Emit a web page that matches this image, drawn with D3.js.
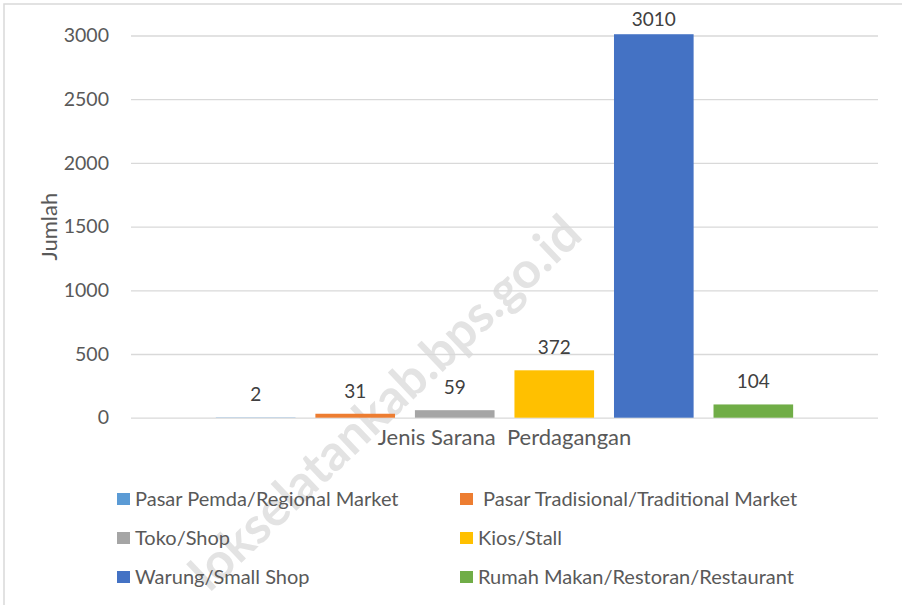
<!DOCTYPE html>
<html>
<head>
<meta charset="utf-8">
<script src="https://cdn.jsdelivr.net/npm/d3@7"></script>
<style>
  html, body { margin: 0; padding: 0; background: #fff; }
  svg { display: block; }
  text { font-family: Lato, "Open Sans", sans-serif; }
</style>
</head>
<body>
<div id="chart"></div>
<script>
// data
const categories = ["Jenis Sarana  Perdagangan"];
const seriesNames = [
  "Pasar Pemda/Regional Market",
  " Pasar Tradisional/Traditional Market",
  "Toko/Shop",
  "Kios/Stall",
  "Warung/Small Shop",
  "Rumah Makan/Restoran/Restaurant"
];
const seriesValues = [2, 31, 59, 372, 3010, 104];
const yTicks = [0, 500, 1000, 1500, 2000, 2500, 3000];
const yTitle = "Jumlah";
const watermark = "lokselatankab.bps.go.id";

// office palette
const palette = ["#5B9BD5", "#ED7D31", "#A5A5A5", "#FFC000", "#4472C4", "#70AD47"];

const width = 902;
const height = 605;
const margin = { top: 35.5, right: 24, bottom: 187.3, left: 131 };

const svg = d3.select("#chart").append("svg")
  .attr("width", width)
  .attr("height", height)
  .attr("viewBox", [0, 0, width, height]);

// chart frame (only top/left visible in the picture)
svg.append("rect")
  .attr("x", 4).attr("y", 4)
  .attr("width", width + 10).attr("height", height + 10)
  .attr("fill", "none")
  .attr("stroke", "#d9d9d9")
  .attr("stroke-width", 1.5);

const y = d3.scaleLinear()
  .domain([0, 3000])
  .range([height - margin.bottom, margin.top]);

const x0 = d3.scaleBand()
  .domain(categories)
  .range([margin.left, width - margin.right])
  .paddingInner(0)
  .paddingOuter(0.147);

const x1 = d3.scaleBand()
  .domain(seriesNames)
  .range([0, x0.bandwidth()])
  .paddingInner(0.2)
  .paddingOuter(0);

const color = d3.scaleOrdinal().domain(seriesNames).range(palette);

// watermark, behind the chart marks
svg.append("text")
  .attr("transform", "translate(388,406) rotate(-43.5)")
  .attr("text-anchor", "middle")
  .attr("dominant-baseline", "middle")
  .attr("font-family", "'Open Sans', sans-serif")
  .attr("font-weight", "bold")
  .attr("font-size", 50)
  .attr("fill", "#e3e3e3")
  .text(watermark);

// gridlines + tick labels
const yAxis = svg.append("g")
  .attr("transform", `translate(${margin.left},0)`)
  .call(d3.axisLeft(y)
    .tickValues(yTicks)
    .tickSizeInner(-(width - margin.left - margin.right))
    .tickSizeOuter(0)
    .tickPadding(22)
    .tickFormat(d3.format("d")));
yAxis.select(".domain").remove();
yAxis.selectAll(".tick line").attr("stroke", "#d9d9d9").attr("stroke-width", 1.3);
yAxis.selectAll(".tick text")
  .attr("fill", "#595959")
  .attr("font-size", 19.5)
  .attr("font-family", "Lato, sans-serif");

// bars
const group = svg.append("g")
  .selectAll("g")
  .data(categories)
  .join("g")
  .attr("transform", d => `translate(${x0(d)},0)`);

group.selectAll("rect")
  .data(() => seriesNames.map((s, i) => ({ s, v: seriesValues[i] })))
  .join("rect")
  .attr("x", d => x1(d.s))
  .attr("y", d => y(d.v))
  .attr("width", x1.bandwidth())
  .attr("height", d => y(0) - y(d.v))
  .attr("fill", d => color(d.s));

// data labels (excel keeps the tallest one inside the plot)
group.selectAll("text.lbl")
  .data(() => seriesNames.map((s, i) => ({ s, v: seriesValues[i] })))
  .join("text")
  .attr("class", "lbl")
  .attr("x", d => x1(d.s) + x1.bandwidth() / 2)
  .attr("y", d => Math.max(y(d.v) - 16, 26))
  .attr("text-anchor", "middle")
  .attr("fill", "#404040")
  .attr("font-size", 19)
  .text(d => d.v);

// category label
svg.append("text")
  .attr("x", x0(categories[0]) + x0.bandwidth() / 2)
  .attr("y", 445)
  .attr("text-anchor", "middle")
  .attr("fill", "#595959")
  .attr("font-size", 22)
  .style("white-space", "pre")
  .text(categories[0]);

// y title
svg.append("text")
  .attr("transform", `translate(57,${(y(0) + y(3000)) / 2}) rotate(-90)`)
  .attr("text-anchor", "middle")
  .attr("fill", "#595959")
  .attr("font-size", 22)
  .text(yTitle);

// legend, two columns
const legendCols = [117, 460];
const legendRows = [499, 538, 577];
const legend = svg.append("g")
  .selectAll("g")
  .data(seriesNames)
  .join("g")
  .attr("transform", (d, i) => `translate(${legendCols[i % 2]},${legendRows[Math.floor(i / 2)]})`);

legend.append("rect")
  .attr("x", 0).attr("y", -6)
  .attr("width", 13).attr("height", 12)
  .attr("fill", d => color(d));

legend.append("text")
  .attr("x", 18)
  .attr("y", 6.5)
  .attr("fill", "#595959")
  .attr("font-size", 20)
  .style("white-space", "pre")
  .text(d => d);
</script>
</body>
</html>
